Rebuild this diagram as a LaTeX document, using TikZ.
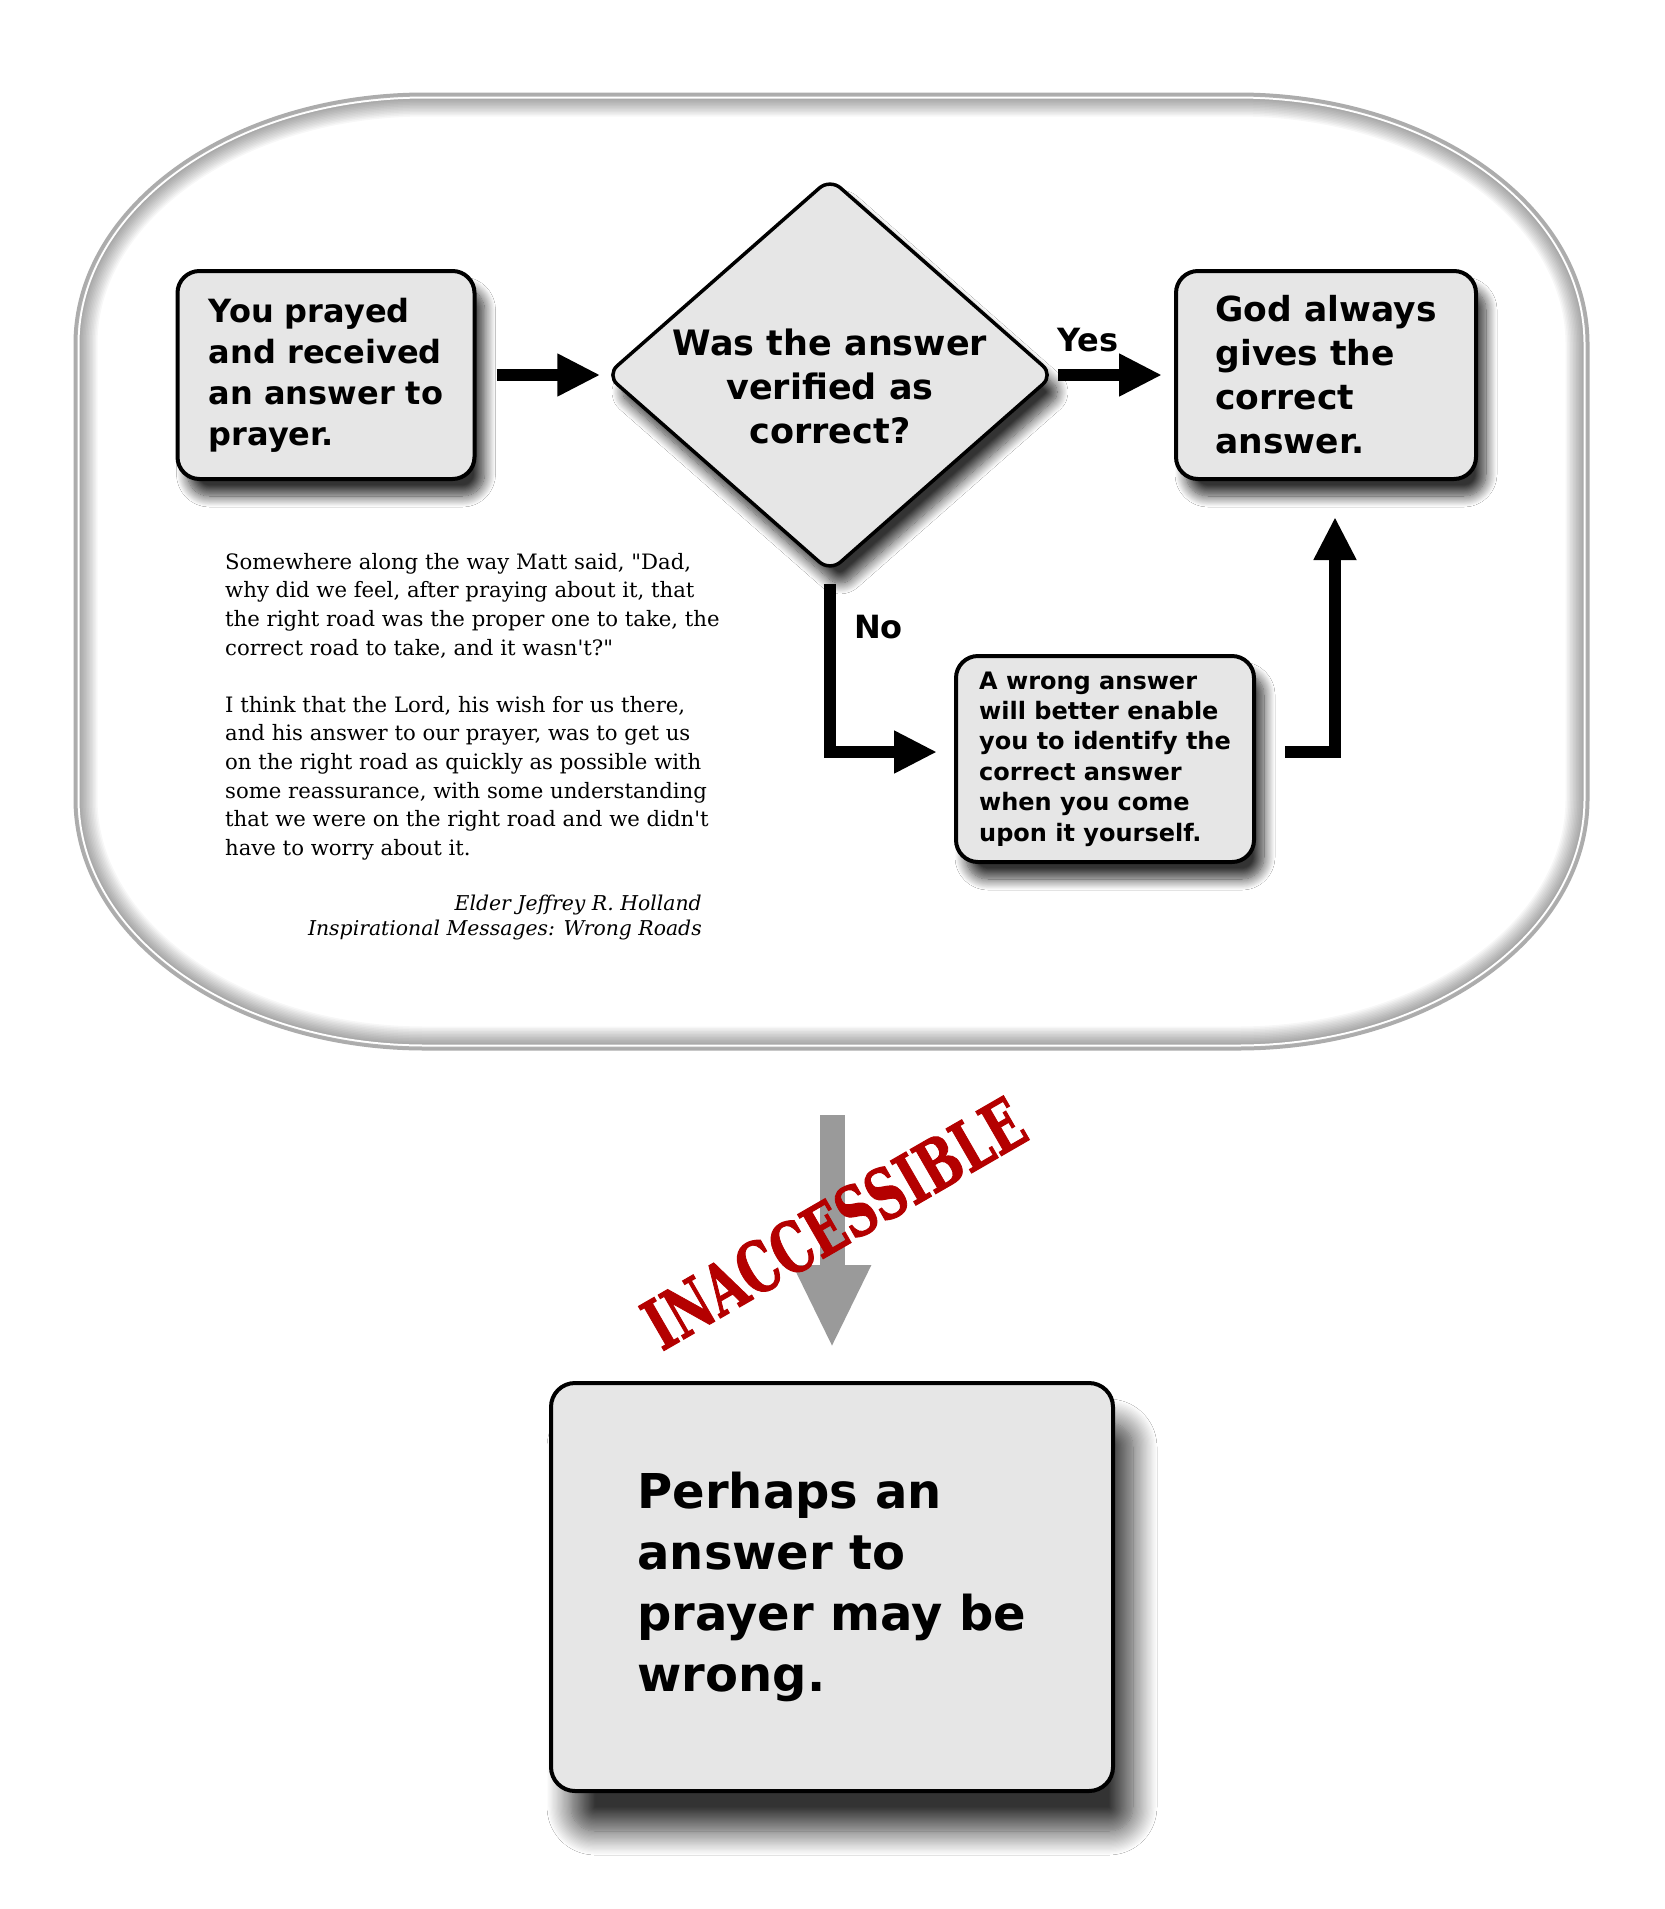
\documentclass[tikz,border=0pt]{standalone}
\usepackage{fontspec}
\setmainfont{DejaVu Serif}
\setsansfont{DejaVu Sans}
\newfontfamily\quotefont{DejaVu Serif}
\newfontfamily\stampfont{DejaVu Serif Bold}[FakeBold=1.5]
\usetikzlibrary{arrows.meta, positioning, shapes.geometric, shadows.blur}

\definecolor{boxgray}{HTML}{E6E6E6}
\definecolor{stampred}{HTML}{B40000}
\definecolor{arrowgray}{HTML}{9A9A9A}
\newcommand\boxfont[2]{\sffamily\bfseries\fontsize{#1}{#2}\selectfont}

\begin{document}
\begin{tikzpicture}[
    x=1pt, y=-1pt,
    >={Triangle[length=43pt, width=40pt]},
    answerbox/.style={draw, line width=4pt, fill=boxgray, rounded corners=22pt,
        align=left, inner sep=0pt},
    smallshadow/.style={blur shadow={shadow xshift=10pt, shadow yshift=-17pt,
        shadow blur radius=11pt, shadow blur steps=16, shadow opacity=80}},
    bigshadow/.style={blur shadow={shadow xshift=20pt, shadow yshift=-40pt,
        shadow blur radius=24pt, shadow blur steps=20, shadow opacity=80}},
    decision/.style={diamond, draw, line width=3.5pt, fill=boxgray,
        rounded corners=14pt, inner sep=0pt,
        minimum width=448pt, minimum height=394pt},
    flow/.style={line width=12pt, ->},
    lbl/.style={font=\boxfont{32}{38}, inner sep=0pt},
    quotetext/.style={font=\quotefont\fontsize{21.2}{28.6}\selectfont,
        align=left, inner sep=0pt},
    stamp/.style={text=stampred, inner sep=0pt,
        font=\stampfont\fontsize{70}{70}\selectfont},
    bigarrow/.style={draw=arrowgray, line width=25pt,
        -{Triangle[length=83pt, width=72pt]}},
    frameoutline/.style={insert path={
        (425,94) -- (1238,94)
        arc[start angle=-90, end angle=0, x radius=350, y radius=250]
        -- (1588,799)
        arc[start angle=0, end angle=90, x radius=350, y radius=250]
        -- (425,1049)
        arc[start angle=90, end angle=180, x radius=350, y radius=250]
        -- (75,344)
        arc[start angle=180, end angle=270, x radius=350, y radius=250]
        -- cycle}}
]

    \useasboundingbox (0,0) rectangle (1665,1909);
    \fill[white] (0,0) rectangle (1665,1909);

    % === 1. Glossy frame ===
    \fill[white, frameoutline];
    \begin{scope}
        \clip[frameoutline];
        \foreach \w in {3,6,...,45}
            \draw[black, opacity=0.03, line width=\w pt, frameoutline];
        \draw[white, line width=9pt, frameoutline];
        \draw[gray!60, line width=5pt, frameoutline];
    \end{scope}
    \draw[gray!65, line width=3pt, frameoutline];
    \coordinate (framebottom) at (832,1049);

    % === 2. Flow chart ===
    \node[answerbox, smallshadow, minimum width=297pt, minimum height=208pt,
        font=\boxfont{32}{41}] (prayed) at (326,375)
        {You prayed\\and received\\an answer to\\prayer.};

    \node[decision, smallshadow] (verified) at (830,375) {};
    \node[font=\boxfont{35}{44}, align=center, inner sep=0pt] (verifiedtext)
        at (830,386) {Was the answer\\verified as\\correct?};

    \node[answerbox, smallshadow, minimum width=300pt, minimum height=208pt,
        font=\boxfont{34.5}{44}] (god) at (1326,375)
        {God always\\gives the\\correct\\answer.};

    \node[answerbox, smallshadow, minimum width=298pt, minimum height=206pt,
        font=\boxfont{24}{30.4}] (wrong) at (1105,759)
        {A wrong answer\\will better enable\\you to identify the\\correct answer\\when you come\\upon it yourself.};

    % Connectors
    \draw[flow, shorten <=20pt, shorten >=4pt] (prayed) -- (verified);
    \draw[flow, shorten <=2pt, shorten >=12pt] (verified)
        -- node[lbl, pos=0.27, above=17pt] (yes) {Yes} (god);
    \draw[flow, shorten <=10pt, shorten >=17pt] (verified.south)
        |- node[lbl, pos=0.15, right=18pt] (no) {No} ([yshift=7pt]wrong.west);
    \draw[flow, shorten <=29pt, shorten >=36pt] ([yshift=7pt]wrong.east)
        -| ([xshift=9pt]god.south);

    % Quote
    \node[quotetext, anchor=north west] (quote) at (225,553)
        {Somewhere along the way Matt said, "Dad,\\
         why did we feel, after praying about it, that\\
         the right road was the proper one to take, the\\
         correct road to take, and it wasn't?"\\[28.6pt]
         I think that the Lord, his wish for us there,\\
         and his answer to our prayer, was to get us\\
         on the right road as quickly as possible with\\
         some reassurance, with some understanding\\
         that we were on the right road and we didn't\\
         have to worry about it.};
    \node[quotetext, anchor=north east, align=right,
        font=\quotefont\itshape\fontsize{20.4}{24.3}\selectfont] (source)
        at (702,895) {Elder Jeffrey R. Holland\\Inspirational Messages: Wrong Roads};

    % === 3. Conclusion ===
    \node[answerbox, bigshadow, minimum width=562pt, minimum height=408pt,
        rounded corners=24pt, font=\boxfont{48}{61}] (perhaps) at (832,1587)
        {Perhaps an\\answer to\\prayer may be\\wrong.};

    \draw[bigarrow, shorten <=66pt, shorten >=33pt] (framebottom) -- (perhaps);

    \node[stamp, rotate=30, xscale=0.7] (inaccessible) at (834,1223) {INACCESSIBLE};

\end{tikzpicture}
\end{document}
